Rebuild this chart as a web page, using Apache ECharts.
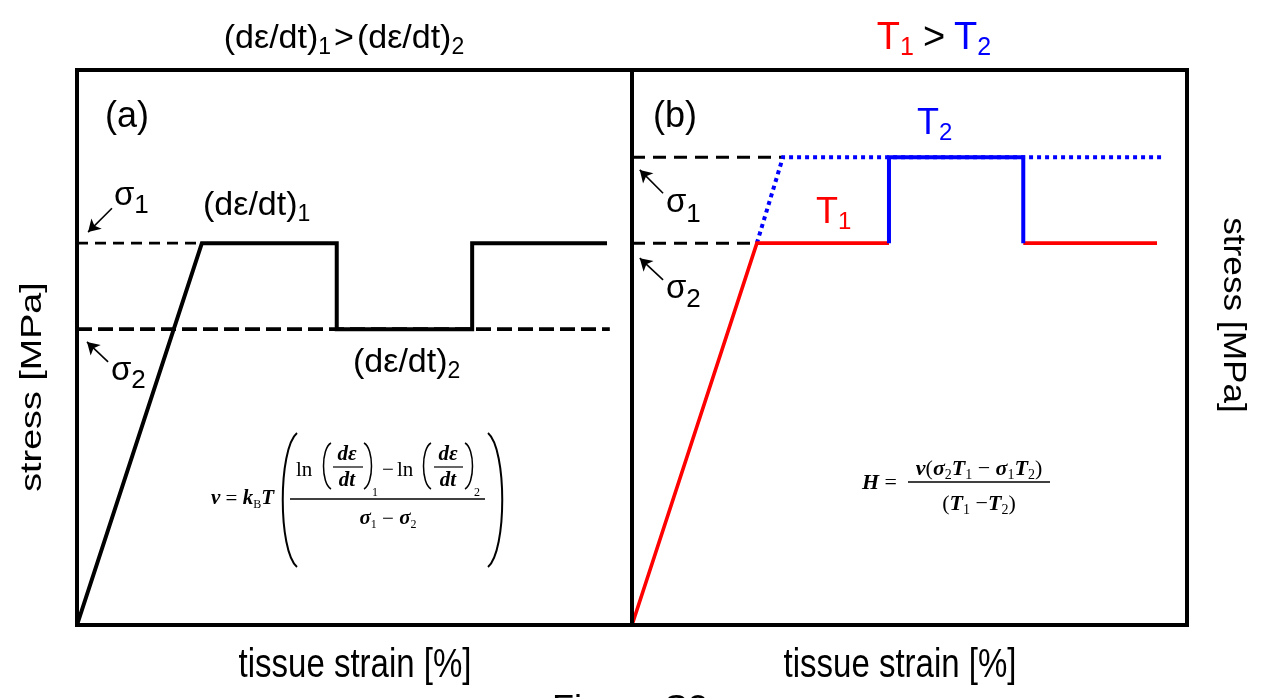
<!DOCTYPE html>
<html><head><meta charset="utf-8">
<script src="https://cdn.jsdelivr.net/npm/echarts@6/dist/echarts.min.js"></script>
<style>html,body{margin:0;padding:0;background:#fff}#c{width:1271px;height:698px}</style>
</head><body><div id="c"></div>
<script>
// ---------- data (tissue strain / stress, schematic units 0..100 per panel) ----------
const rateStrainA = [0, 22.5, 46.8, 46.8, 71.2, 71.2, 95.5];
const rateStressA = [0, 68.8, 68.8, 53.3, 53.3, 68.8, 68.8];
const sigmaA = [68.8, 53.3];               // sigma1, sigma2 (panel a)
const sigma1DashStrainA = [0, 22.5];
const sigma2DashStrainA = [0, 96];
const sigmaB = [84.3, 68.8];               // sigma1, sigma2 (panel b)
const t1StrainB = [0, 22.5, 46.3];
const t1StressB = [0, 68.8, 68.8];
const t1TailStrainB = [70.5, 94.6];
const t1TailStressB = [68.8, 68.8];
const t2StepStrainB = [46.3, 46.3, 70.5, 70.5];
const t2StepStressB = [68.8, 84.3, 84.3, 68.8];
const t2DotStrainB = [22.5, 27.2, 96];
const t2DotStressB = [68.8, 84.3, 84.3];
const sigma1DashStrainB = [0, 27.2];
const sigma2DashStrainB = [0, 22.5];
const arrowsA = [[[6.3, 75.1], [2.0, 70.8]], [[5.6, 47.4], [1.8, 51.0]]];
const arrowsB = [[[5.6, 77.8], [1.4, 82.0]], [[5.6, 62.2], [1.4, 66.1]]];
const xLabel = 'tissue strain [%]';
const yLabel = 'stress [MPa]';

const zip = (xs, ys) => xs.map((x, i) => [x, ys[i]]);
const RED = '#ff0000', BLUE = '#0000ff', BLK = '#000000';
const SANS = "'Liberation Sans', Arial, sans-serif";
const SERIF = "'Liberation Serif', 'Times New Roman', serif";

function line(grid, data, color, width, type, z, extra) {
  return Object.assign({
    type: 'line', xAxisIndex: grid, yAxisIndex: grid, data: data, symbol: 'none',
    silent: true, animation: false, z: z || 2,
    lineStyle: { color: color, width: width, type: type || 'solid', cap: 'butt', join: 'miter' }
  }, extra || {});
}
function arrows(list) {
  return {
    silent: true, symbol: ['none', 'arrow'], symbolSize: [11, 12], animation: false,
    label: { show: false },
    lineStyle: { color: BLK, width: 1.6, type: 'solid' },
    data: list.map(a => [{ coord: a[0] }, { coord: a[1] }])
  };
}

// ---------- text helpers ----------
const mctx = document.createElement('canvas').getContext('2d');
function fontStr(p) { return (p.it ? 'italic ' : '') + (p.b ? 'bold ' : '') + p.fs + 'px ' + (p.fam || SANS); }
function runs(x, y, parts, anchor, common) {
  parts = parts.map(p => Object.assign({}, common || {}, p));
  const widths = parts.map(p => { mctx.font = fontStr(p); return mctx.measureText(p.t).width + (p.dx || 0); });
  const total = widths.reduce((a, b) => a + b, 0);
  let cx = anchor === 'center' ? x - total / 2 : x;
  return parts.map((p, i) => {
    const el = { type: 'text', x: cx, y: y + (p.dy || 0), silent: true, z: 10,
      style: { text: p.t, font: fontStr(p), fill: p.fill || BLK, align: 'left', verticalAlign: 'middle' } };
    cx += widths[i];
    return el;
  });
}
function paren(x, y1, y2, bulge, w) {
  return { type: 'bezierCurve', silent: true, z: 10,
    shape: { x1: x, y1: y1, x2: x, y2: y2, cpx1: bulge, cpy1: y1 + (y2 - y1) * 0.12, cpx2: bulge, cpy2: y2 - (y2 - y1) * 0.12 },
    style: { stroke: BLK, lineWidth: w, fill: null } };
}
function bar(x1, x2, y, w) {
  return { type: 'line', silent: true, z: 10, shape: { x1: x1, y1: y, x2: x2, y2: y }, style: { stroke: BLK, lineWidth: w || 1.3 } };
}

const S = { fam: SANS, fs: 34 };
const sub = (t, extra) => Object.assign({ t: t, fs: 23, dy: 9 }, extra || {});
const F = { fam: SERIF, fs: 21 };
const fb = t => ({ t: t, b: true, it: true });
const fsub = (t, fs) => ({ t: t, it: false, fs: fs || 12, dy: 6 });

let g = [];
// titles
g = g.concat(runs(344, 39, [{ t: '(dε/dt)' }, sub('1', { dx: 3 }), { t: '>', dx: 3 }, { t: '(dε/dt)' }, sub('2')], 'center', S));
g = g.concat(runs(934, 39, [{ t: 'T', fill: RED }, sub('1', { fill: RED, fs: 25, dx: 9 }), { t: '>', dx: 9 }, { t: 'T', fill: BLUE }, sub('2', { fill: BLUE, fs: 25 })], 'center', { fam: SANS, fs: 38 }));
// panel labels
g = g.concat(runs(105, 117, [{ t: '(a)' }], 'left', { fam: SANS, fs: 36 }));
g = g.concat(runs(653, 117, [{ t: '(b)' }], 'left', { fam: SANS, fs: 36 }));
// curve labels
g = g.concat(runs(203, 206, [{ t: '(dε/dt)' }, sub('1')], 'left', S));
g = g.concat(runs(353, 363, [{ t: '(dε/dt)' }, sub('2')], 'left', S));
g = g.concat(runs(114, 196, [{ t: 'σ', fs: 33 }, { t: '1', fs: 26, dy: 10 }], 'left', S));
g = g.concat(runs(111, 371, [{ t: 'σ', fs: 33 }, { t: '2', fs: 26, dy: 10 }], 'left', S));
g = g.concat(runs(666, 203, [{ t: 'σ', fs: 33 }, { t: '1', fs: 26, dy: 12 }], 'left', S));
g = g.concat(runs(666, 289, [{ t: 'σ', fs: 33 }, { t: '2', fs: 26, dy: 11 }], 'left', S));
g = g.concat(runs(816, 213, [{ t: 'T', fill: RED, fs: 36 }, sub('1', { fill: RED, fs: 24 })], 'left', S));
g = g.concat(runs(917, 124, [{ t: 'T', fill: BLUE, fs: 36 }, sub('2', { fill: BLUE, fs: 24 })], 'left', S));

// formula (a)
g = g.concat(runs(211, 499, [fb('v'), { t: ' = ' }, fb('k'), fsub('B'), fb('T')], 'left', F));
g.push(paren(297, 433, 567, 278, 2));
g.push(paren(488, 433, 567, 507, 2));
g.push(bar(290, 485, 499));
g = g.concat(runs(296, 470, [{ t: 'ln' }], 'left', F));
g.push(paren(331, 443, 489, 321, 1.5));
g = g.concat(runs(347, 455, [fb('dε')], 'center', F));
g.push(bar(333, 363, 467, 1.2));
g = g.concat(runs(347, 481, [fb('dt')], 'center', F));
g.push(paren(364, 443, 489, 374, 1.5));
g = g.concat(runs(372, 493, [{ t: '1', fs: 12 }], 'left', F));
g = g.concat(runs(388, 470, [{ t: '−' }], 'center', F));
g = g.concat(runs(397, 470, [{ t: 'ln' }], 'left', F));
g.push(paren(431, 443, 489, 421, 1.5));
g = g.concat(runs(448, 455, [fb('dε')], 'center', F));
g.push(bar(434, 463, 467, 1.2));
g = g.concat(runs(448, 481, [fb('dt')], 'center', F));
g.push(paren(465, 443, 489, 475, 1.5));
g = g.concat(runs(474, 493, [{ t: '2', fs: 12 }], 'left', F));
g = g.concat(runs(388, 519, [fb('σ'), fsub('1'), { t: ' − ' }, fb('σ'), fsub('2')], 'center', F));

// formula (b)
const F2 = { fam: SERIF, fs: 22 };
g = g.concat(runs(862, 483, [fb('H'), { t: ' = ' }], 'left', F2));
g.push(bar(908, 1050, 482));
g = g.concat(runs(979, 469, [fb('v'), { t: '(' }, fb('σ'), fsub('2', 14), fb('T'), fsub('1', 14), { t: ' − ' }, fb('σ'), fsub('1', 14), fb('T'), fsub('2', 14), { t: ')' }], 'center', F2));
g = g.concat(runs(979, 504, [{ t: '(' }, fb('T'), fsub('1', 14), { t: ' −' }, fb('T'), fsub('2', 14), { t: ')' }], 'center', F2));

// axis titles
g.push({ type: 'text', x: 355, y: 666, scaleY: 1.22, silent: true, style: { text: xLabel, font: '33px ' + SANS, fill: BLK, align: 'center', verticalAlign: 'middle' } });
g.push({ type: 'text', x: 900, y: 666, scaleY: 1.22, silent: true, style: { text: xLabel, font: '33px ' + SANS, fill: BLK, align: 'center', verticalAlign: 'middle' } });
g.push({ type: 'text', x: 33, y: 387, rotation: Math.PI / 2, scaleX: 1.3, silent: true, style: { text: yLabel, font: '29px ' + SANS, fill: BLK, align: 'center', verticalAlign: 'middle' } });
g.push({ type: 'text', x: 1233, y: 315, rotation: -Math.PI / 2, scaleX: 1.1, silent: true, style: { text: yLabel, font: '32px ' + SANS, fill: BLK, align: 'center', verticalAlign: 'middle' } });
g.push({ type: 'text', x: 552, y: 693, silent: true, style: { text: 'Figure S3', font: '36px ' + SANS, fill: BLK, align: 'left', verticalAlign: 'top' } });

const axisOff = { type: 'value', min: 0, max: 100, show: false };
const chart = echarts.init(document.getElementById('c'), null, { renderer: 'canvas' });
chart.setOption({
  animation: false,
  backgroundColor: '#ffffff',
  grid: [
    { left: 77, top: 70, width: 555, height: 555, show: true, borderColor: BLK, borderWidth: 4, backgroundColor: 'transparent', z: 5 },
    { left: 632, top: 70, width: 555, height: 555, show: true, borderColor: BLK, borderWidth: 4, backgroundColor: 'transparent', z: 5 }
  ],
  xAxis: [Object.assign({ gridIndex: 0 }, axisOff), Object.assign({ gridIndex: 1 }, axisOff)],
  yAxis: [Object.assign({ gridIndex: 0 }, axisOff), Object.assign({ gridIndex: 1 }, axisOff)],
  series: [
    // panel (a)
    line(0, sigma1DashStrainA.map(x => [x, sigmaA[0]]), BLK, 2.8, [11, 7], 2, { markLine: arrows(arrowsA) }),
    line(0, sigma2DashStrainA.map(x => [x, sigmaA[1]]), BLK, 3.8, [15, 6], 2),
    line(0, zip(rateStrainA, rateStressA), BLK, 4, 'solid', 3),
    // panel (b)
    line(1, sigma1DashStrainB.map(x => [x, sigmaB[0]]), BLK, 3, [13, 8], 2, { markLine: arrows(arrowsB) }),
    line(1, sigma2DashStrainB.map(x => [x, sigmaB[1]]), BLK, 3, [13, 8], 2),
    line(1, zip(t2DotStrainB, t2DotStressB), BLUE, 4, [4, 4], 3),
    line(1, zip(t1StrainB, t1StressB), RED, 3.6, 'solid', 4),
    line(1, zip(t1TailStrainB, t1TailStressB), RED, 3.6, 'solid', 4),
    line(1, zip(t2StepStrainB, t2StepStressB), BLUE, 4, 'solid', 4)
  ],
  graphic: { elements: g }
});
</script>
</body></html>
